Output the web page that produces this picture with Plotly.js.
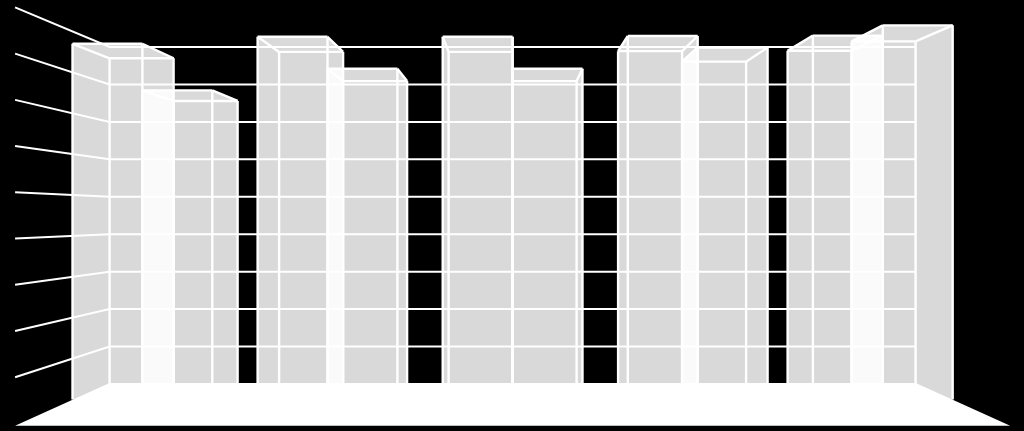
<!DOCTYPE html>
<html>
<head>
<meta charset="utf-8">
<script src="https://cdn.plot.ly/plotly-3.0.1.min.js"></script>
<style>html,body{margin:0;padding:0;background:#000;overflow:hidden}#c{width:1024px;height:431px}</style>
</head>
<body>
<div id="c"></div>
<script>
// Data
const categories = [0, 1, 2, 3, 4];
const seriesA = [8.70, 8.87, 8.87, 8.89, 8.90];
const seriesB = [7.56, 8.09, 8.09, 8.61, 9.15];
const gridValues = [1, 2, 3, 4, 5, 6, 7, 8, 9];

// Perspective of the 3-D box, in axis units
const barW = 0.3776, wallL = -0.3776, wallR = 4.378;
const vpX = 2, vpY = 4.49, nearBar = 1.092, nearFloor = 1.2345;
const floorBack = 0.03, floorFront = -0.05;
const P = (x, y, s) => [vpX + (x - vpX) * s, vpY + (y - vpY) * s];

function hull(pts) {
  const p = pts.slice().sort((a, b) => a[0] - b[0] || a[1] - b[1]);
  const cr = (o, a, b) => (a[0]-o[0])*(b[1]-o[1]) - (a[1]-o[1])*(b[0]-o[0]);
  const lo = [], up = [];
  for (const q of p) { while (lo.length > 1 && cr(lo[lo.length-2], lo[lo.length-1], q) <= 0) lo.pop(); lo.push(q); }
  for (const q of p.slice().reverse()) { while (up.length > 1 && cr(up[up.length-2], up[up.length-1], q) <= 0) up.pop(); up.push(q); }
  return lo.slice(0, -1).concat(up.slice(0, -1));
}
function polyTrace(pts, color) {
  const c = pts.concat([pts[0]]);
  return {type:'scatter', mode:'lines', x:c.map(p=>p[0]), y:c.map(p=>p[1]), fill:'toself',
          fillcolor:color, line:{width:0, color:color}, hoverinfo:'skip', showlegend:false};
}
function lineTrace(segs, width) {
  const x = [], y = [];
  for (const s of segs) { for (const p of s) { x.push(p[0]); y.push(p[1]); } x.push(null); y.push(null); }
  return {type:'scatter', mode:'lines', x, y, line:{width, color:'#ffffff'}, hoverinfo:'skip', showlegend:false, connectgaps:false};
}

const traces = [], edges = [];
function addBar(x0, x1, v) {
  const c = [[x0,0],[x1,0],[x1,v],[x0,v]];
  const far = c.map(q => P(q[0], q[1], 1)), near = c.map(q => P(q[0], q[1], nearBar));
  traces.push(polyTrace(hull(far.concat(near)), 'rgba(255,255,255,0.85)'));
  edges.push([far[0],far[3]],[far[1],far[2]],[far[2],far[3]]);
  edges.push([near[0],near[3]],[near[1],near[2]],[near[2],near[3]]);
  edges.push([far[2],near[2]],[far[3],near[3]]);
}
categories.forEach((c, i) => {
  addBar(c - barW, c, seriesA[i]);
  addBar(c, c + barW, seriesB[i]);
});

const grid = [];
gridValues.forEach(v => {
  grid.push([P(wallL, v, nearFloor), P(wallL, v, 1), P(wallR, v, 1)]);
});
traces.push(lineTrace(grid, 2));
traces.push(lineTrace(edges, 2.4));
traces.push(polyTrace([P(wallL,floorBack,1), P(wallR,floorBack,1), P(wallR,floorFront,nearFloor), P(wallL,floorFront,nearFloor)], '#ffffff'));

const xUnit = 169.5, x0Px = 173.6, yUnit = 37.44, y0Px = 384;
const layout = {
  width:1024, height:431, margin:{l:0,r:0,t:0,b:0,pad:0},
  paper_bgcolor:'#000000', plot_bgcolor:'#000000', showlegend:false,
  xaxis:{visible:false, fixedrange:true, range:[-x0Px/xUnit, (1024-x0Px)/xUnit]},
  yaxis:{visible:false, fixedrange:true, range:[(y0Px-431)/yUnit, y0Px/yUnit]}
};
Plotly.newPlot('c', traces, layout, {staticPlot:true, displayModeBar:false});
</script>
</body>
</html>
